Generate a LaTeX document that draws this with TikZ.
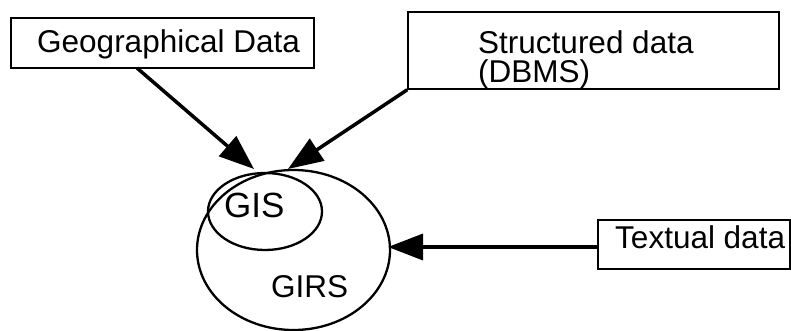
\documentclass[tikz,border=0pt]{standalone}
\usepackage{fontspec}
\setmainfont{Liberation Sans}
\usetikzlibrary{shapes.geometric,arrows.meta}

\tikzset{
  databox/.style={draw, line width=1.6pt, rectangle, inner sep=0pt},
  lbl/.style={inner sep=0pt, anchor=base west, font=\fontsize{31.5}{29}\selectfont},
  oval/.style={draw, line width=2.3pt, ellipse, inner sep=0pt},
  feed/.style={line width=3.5pt, -{Triangle[length=35pt, width=26pt]}}
}

\begin{document}
\begin{tikzpicture}[x=1pt, y=-1pt]
  \useasboundingbox (0,0) rectangle (791,331);

  % source boxes
  \node[databox, minimum width=303pt, minimum height=50pt] (geo) at (162.5,43) {};
  \node[lbl] (geotext) at (37,53) {Geographical Data};

  \node[databox, minimum width=371pt, minimum height=77pt] (dbms) at (593.5,50.5) {};
  \node[lbl] (dbmstext1) at (478,54) {Structured data};
  \node[lbl] (dbmstext2) at (478,83) {(DBMS)};

  \node[databox, minimum width=192pt, minimum height=49pt] (txt) at (694,244.5) {};
  \node[lbl] (txttext) at (615,248) {Textual data};

  % nested systems
  \node[oval, minimum width=193pt, minimum height=160pt] (girs) at (293.5,250) {};
  \node[oval, minimum width=114pt, minimum height=77pt] (gis) at (265,211.5) {};
  \node[lbl, font=\fontsize{35}{35}\selectfont] (gistext) at (224,217) {GIS};
  \node[lbl] (girstext) at (271,297) {GIRS};

  % arrow ends
  \coordinate (geoout) at (137,68);
  \coordinate (geoin) at (254,169);
  \coordinate (dbmsin) at (288,169);
  \coordinate (txtout) at (598,247);
  \coordinate (txtin) at (388,247);

  \draw[feed] (geoout) -- (geoin);
  \draw[feed] (dbms.south west) -- (dbmsin);
  \draw[feed] (txtout) -- (txtin);
\end{tikzpicture}
\end{document}
